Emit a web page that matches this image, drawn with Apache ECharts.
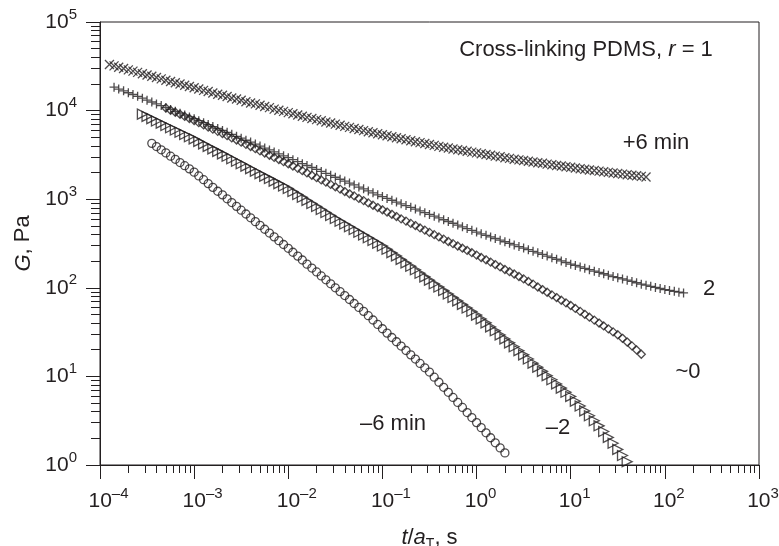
<!DOCTYPE html>
<html>
<head>
<meta charset="utf-8">
<title>Cross-linking PDMS relaxation modulus</title>
<script src="https://cdn.jsdelivr.net/npm/echarts@6/dist/echarts.min.js"></script>
<style>
  html, body { margin: 0; padding: 0; background: #fff; }
  #main { width: 779px; height: 546px; }
</style>
</head>
<body>
<div id="main"></div>
<script>
// reduced time t/aT (s), shared sampling of all curves
var times = [
  1.26e-4,1.41e-4,1.58e-4,1.78e-4,2.00e-4,2.24e-4,2.51e-4,2.82e-4,3.16e-4,3.55e-4,3.98e-4,4.47e-4,5.01e-4,5.62e-4,6.31e-4,7.08e-4,7.94e-4,8.91e-4,
  1.00e-3,1.12e-3,1.26e-3,1.41e-3,1.58e-3,1.78e-3,2.00e-3,2.24e-3,2.51e-3,2.82e-3,3.16e-3,3.55e-3,3.98e-3,4.47e-3,5.01e-3,5.62e-3,6.31e-3,7.08e-3,7.94e-3,8.91e-3,
  1.00e-2,1.12e-2,1.26e-2,1.41e-2,1.58e-2,1.78e-2,2.00e-2,2.24e-2,2.51e-2,2.82e-2,3.16e-2,3.55e-2,3.98e-2,4.47e-2,5.01e-2,5.62e-2,6.31e-2,7.08e-2,7.94e-2,8.91e-2,
  0.100,0.112,0.126,0.141,0.158,0.178,0.200,0.224,0.251,0.282,0.316,0.355,0.398,0.447,0.501,0.562,0.631,0.708,0.794,0.891,
  1.00,1.12,1.26,1.41,1.58,1.78,2.00,2.24,2.51,2.82,3.16,3.55,3.98,4.47,5.01,5.62,6.31,7.08,7.94,8.91,
  10.0,11.2,12.6,14.1,15.8,17.8,20.0,22.4,25.1,28.2,31.6,35.5,39.8,44.7,50.1,56.2,63.1,70.8,79.4,89.1,
  100,112,126,141,158
];

// G (Pa) for each curve, with the index in times of its first point
var plus6Start = 0;
var plus6 = [
  33100,32000,30900,29900,28800,27900,27000,26100,25200,24400,23600,22800,22000,21300,20600,20000,19300,18700,18100,
  17500,16900,16400,15800,15300,14900,14400,13900,13500,13100,12600,12200,11900,11500,11100,10800,10400,10100,9800,9480,
  9200,8910,8650,8390,8150,7910,7670,7450,7230,7030,6820,6640,6460,6280,6110,5940,5780,5620,5480,5330,
  5200,5060,4930,4810,4690,4570,4460,4350,4250,4140,4050,3950,3860,3780,3690,3610,3540,3470,3400,3330,
  3260,3190,3130,3060,3010,2940,2890,2830,2780,2730,2680,2630,2580,2540,2490,2450,2400,2370,2320,2290,
  2250,2210,2180,2140,2110,2075,2040,2010,1980,1950,1920,1890,1860,1840,1810,1780
];
var plus2Start = 1;
var plus2 = [
  18400,17500,16700,15900,15200,14500,13800,13100,12500,11900,11400,10800,10300,9820,9350,8910,8490,8090,
  7690,7310,6950,6610,6280,5970,5680,5400,5130,4880,4630,4410,4190,3980,3780,3600,3420,3250,3090,2940,
  2790,2650,2520,2400,2280,2170,2060,1960,1860,1770,1680,1600,1520,1450,1370,1310,1240,1180,1120,1070,
  1020,973,929,887,847,809,773,738,705,673,643,614,586,560,535,511,488,466,445,425,
  407,391,375,360,345,331,318,305,292,281,269,258,248,238,228,219,210,201,193,185,
  179,172,166,160,154,149,144,139,134,130,126,122,118,114,110,107,104,101,98.2,95.5,
  93.3,91.2,89.3,87.5
];
var zeroStart = 12;
var zero = [
  10700,10100,9590,9080,8590,8130,7730,
  7310,6900,6530,6170,5830,5510,5210,4920,4660,4400,4160,3930,3720,3510,3320,3130,2960,2800,2650,2510,
  2370,2230,2100,1980,1860,1750,1650,1560,1470,1380,1300,1220,1150,1090,1020,964,908,855,805,759,
  716,675,637,600,566,533,504,474,448,422,398,375,354,333,315,296,280,264,249,234,
  220,207,195,183,172,161,152,143,134,126,118,110,102,95.5,89.1,83.2,77.6,72.4,67.6,63.1,
  58.5,54.2,50.2,46.6,43.2,40.0,37.1,34.4,31.8,29.5,26.9,24.4,22.1,19.9,17.8
];
var minus2Start = 7;
var minus2 = [
  9120,8590,8110,7640,7210,6790,6410,6040,5700,5370,5070,4790,
  4490,4210,3940,3700,3470,3250,3050,2860,2680,2510,2360,2210,2070,1940,1820,1710,1600,1500,1410,1320,
  1220,1130,1050,968,895,828,766,708,655,605,564,525,489,455,424,394,367,342,318,296,
  272,249,229,209,191,175,160,146,133,122,111,102,93.1,85.1,77.8,71.1,64.9,59.2,54.0,49.2,
  44.5,40.2,36.2,32.7,29.4,26.5,23.9,21.6,19.5,17.5,15.7,14.1,12.7,11.4,10.2,9.16,8.22,7.38,6.62,5.94,
  5.25,4.63,4.08,3.60,3.16,2.77,2.39,2.05,1.76,1.50,1.28,1.09
];
var minus6Start = 9;
var minus6 = [
  4270,3930,3610,3330,3060,2820,2590,2390,2200,2020,
  1830,1660,1500,1360,1230,1120,1010,916,830,752,681,617,558,506,458,415,376,340,308,279,
  252,228,206,185,167,151,136,123,111,100,90.6,81.7,73.8,66.5,60.1,54.2,48.4,43.3,38.6,34.5,
  30.8,27.5,24.6,22.0,19.6,17.5,15.7,14.0,12.5,11.2,9.80,8.59,7.53,6.61,5.79,5.08,4.46,3.91,3.43,3.01,
  2.64,2.31,2.03,1.78,1.56,1.37
];

// decade ticks
var xDecades = [1e-4, 1e-3, 1e-2, 1e-1, 1, 10, 100, 1000];
var yDecades = [1, 10, 100, 1000, 10000, 100000];

var ink = '#231f20';
var font = '"Liberation Sans", Arial, Helvetica, sans-serif';

function minorTicks(decades) {
  var out = [];
  for (var i = 0; i < decades.length - 1; i++) {
    for (var m = 2; m <= 9; m++) out.push(m * decades[i]);
  }
  return out;
}

function pairs(vals, start) {
  return vals.map(function (g, i) { return [times[start + i], g]; });
}

function expOf(v) {
  return Math.round(Math.log(v) / Math.LN10);
}
function expText(e) {
  return e < 0 ? '\u2013' + (-e) : '' + e;
}

var tickRich = {
  b: { fontSize: 21, lineHeight: 30, color: ink, fontFamily: font },
  e: { fontSize: 15, lineHeight: 18, verticalAlign: 'top', color: ink, fontFamily: font },
  // spacers so that the "10" sits centred under the tick
  p1: { width: 8, lineHeight: 30 },
  p2: { width: 17, lineHeight: 30 }
};

var markStyle = { color: 'rgba(0,0,0,0)', borderColor: ink, borderWidth: 1.3 };

function curve(name, vals, start, symbol, size, rotate) {
  return {
    name: name,
    type: 'scatter',
    data: pairs(vals, start),
    symbol: symbol,
    symbolSize: size,
    symbolRotate: rotate || 0,
    itemStyle: markStyle,
    silent: true
  };
}

var myChart = echarts.init(document.getElementById('main'));

myChart.setOption({
  animation: false,
  backgroundColor: '#fff',
  textStyle: { fontFamily: font, color: ink },
  grid: {
    left: 100, right: 20, top: 22, bottom: 81,
    containLabel: false, outerBoundsMode: 'none',
    show: true, borderColor: ink, borderWidth: 1, backgroundColor: 'transparent'
  },
  xAxis: [{
    type: 'log', logBase: 10, min: 1e-4, max: 1e3,
    axisLine: { show: true, onZero: false, lineStyle: { color: ink, width: 1 } },
    axisTick: { show: true, inside: false, length: 14, customValues: xDecades, lineStyle: { color: ink, width: 1 } },
    axisLabel: {
      margin: 21, customValues: xDecades, rich: tickRich, hideOverlap: false,
      formatter: function (v) {
        var e = expOf(v);
        return (e < 0 ? '{p2|}' : '{p1|}') + '{b|10}{e|' + expText(e) + '}';
      }
    },
    splitLine: { show: false },
    name: '{i|t}/{i|a}{s|T}, s',
    nameLocation: 'middle',
    nameGap: 60,
    nameTextStyle: {
      fontSize: 22, color: ink, fontFamily: font,
      rich: {
        i: { fontSize: 22, fontStyle: 'italic', lineHeight: 26, color: ink, fontFamily: font },
        s: { fontSize: 14, lineHeight: 16, verticalAlign: 'bottom', color: ink, fontFamily: font }
      }
    }
  }, {
    // minor ticks 2..9 of every decade
    type: 'log', logBase: 10, min: 1e-4, max: 1e3, position: 'bottom',
    axisLine: { show: false },
    axisTick: { show: true, inside: false, length: 8, customValues: minorTicks(xDecades), lineStyle: { color: ink, width: 1 } },
    axisLabel: { show: false },
    splitLine: { show: false }
  }],
  yAxis: [{
    type: 'log', logBase: 10, min: 1, max: 1e5,
    axisLine: { show: true, onZero: false, lineStyle: { color: ink, width: 1 } },
    axisTick: { show: true, inside: false, length: 14, customValues: yDecades, lineStyle: { color: ink, width: 1 } },
    axisLabel: {
      margin: 23, customValues: yDecades, rich: tickRich,
      formatter: function (v) { return '{b|10}{e|' + expText(expOf(v)) + '}'; }
    },
    splitLine: { show: false },
    name: '{i|G}, Pa',
    nameLocation: 'middle',
    nameGap: 64,
    nameTextStyle: {
      fontSize: 22, color: ink, fontFamily: font,
      rich: {
        i: { fontSize: 22, fontStyle: 'italic', color: ink, fontFamily: font }
      }
    }
  }, {
    type: 'log', logBase: 10, min: 1, max: 1e5, position: 'left',
    axisLine: { show: false },
    axisTick: { show: true, inside: false, length: 9, customValues: minorTicks(yDecades), lineStyle: { color: ink, width: 1 } },
    axisLabel: { show: false },
    splitLine: { show: false }
  }],
  series: [
    curve('+6 min', plus6, plus6Start, 'path://M0,0L10,10M10,0L0,10', 9),
    curve('2', plus2, plus2Start, 'path://M5,0L5,10M0,5L10,5', 9),
    curve('~0', zero, zeroStart, 'diamond', 8),
    curve('-2', minus2, minus2Start, 'triangle', 10, -90),
    curve('-6 min', minus6, minus6Start, 'circle', 8)
  ],
  graphic: [
    { type: 'text', x: 586, y: 50, silent: true,
      style: { text: 'Cross-linking PDMS, {i|r} = 1', align: 'center', verticalAlign: 'middle',
        font: '22px ' + font, fill: ink,
        rich: { i: { fontStyle: 'italic', fontSize: 22, fontFamily: font, fill: ink } } } },
    { type: 'text', x: 656, y: 143, silent: true,
      style: { text: '+6 min', align: 'center', verticalAlign: 'middle', font: '22px ' + font, fill: ink } },
    { type: 'text', x: 709, y: 289, silent: true,
      style: { text: '2', align: 'center', verticalAlign: 'middle', font: '22px ' + font, fill: ink } },
    { type: 'text', x: 688, y: 372, silent: true,
      style: { text: '~0', align: 'center', verticalAlign: 'middle', font: '22px ' + font, fill: ink } },
    { type: 'text', x: 558, y: 428, silent: true,
      style: { text: '\u20132', align: 'center', verticalAlign: 'middle', font: '22px ' + font, fill: ink } },
    { type: 'text', x: 393, y: 424, silent: true,
      style: { text: '\u20136 min', align: 'center', verticalAlign: 'middle', font: '22px ' + font, fill: ink } }
  ]
});
</script>
</body>
</html>
